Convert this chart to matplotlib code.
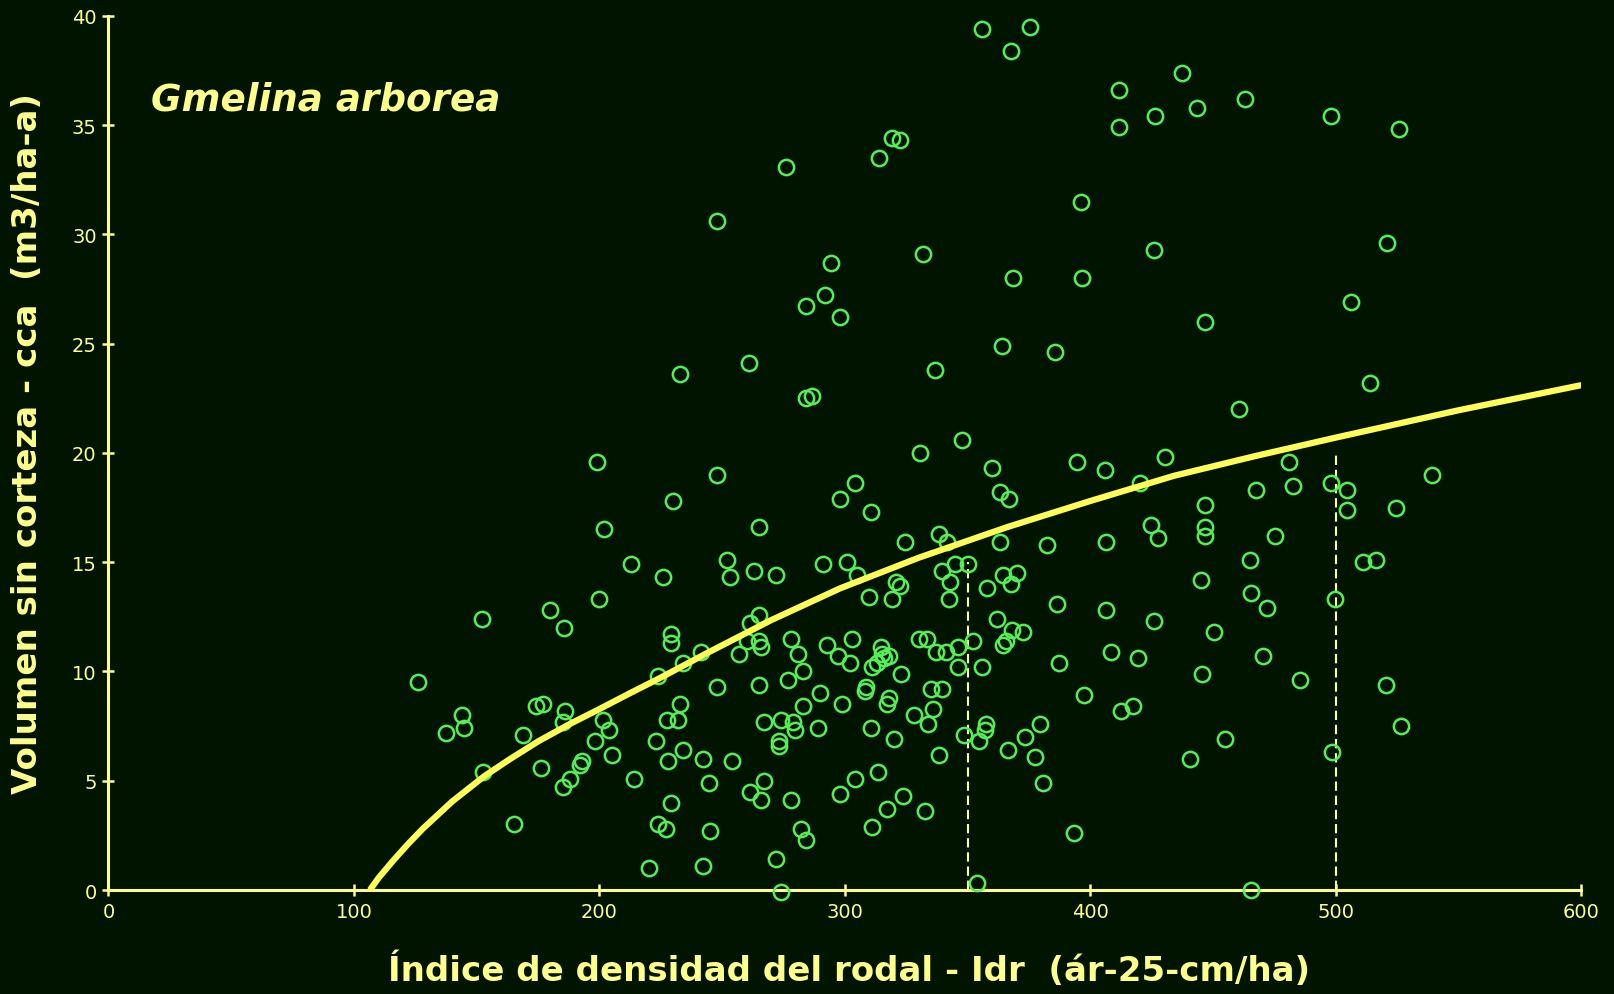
import numpy as np
import matplotlib
matplotlib.use('Agg')
import matplotlib.pyplot as plt

# datos
idr = [126, 137.5, 144, 145, 152, 152.5, 165, 169, 174, 177, 176, 180, 185.5, 186, 185,
       185, 188, 192, 193, 199, 198, 200, 202, 201.5, 204, 205, 213, 214, 220, 223,
       224, 224, 226, 227, 227.5, 228, 229, 229, 229, 230, 232, 233, 234, 233, 234,
       241.5, 242, 242, 244.5, 245, 248, 248, 248, 252, 253, 254, 257, 261, 260, 261.5,
       261.5, 263, 265, 265, 265, 266, 265, 267, 267, 266, 272, 272, 273, 273, 274,
       274, 276, 277, 278, 278, 279, 279.5, 281, 282, 283, 283, 284, 284, 284, 286.5,
       289, 290, 291, 292, 292.5, 294.5, 297, 298, 298, 298, 299, 301, 302, 303, 304,
       304, 305, 308, 308.5, 310, 310.5, 310.5, 311, 311, 313, 313.5, 314, 314.5, 315,
       316, 317, 318, 317, 318, 319, 320, 319, 321, 322.5, 322.5, 323, 323.5, 324.5,
       328, 330, 330.5, 332, 332.5, 333.5, 334, 335, 336, 336.5, 337, 338.5, 338.5,
       339.5, 339.5, 341, 341.5, 342.5, 343, 345, 346, 346, 347.5, 348.5, 350, 352,
       354, 354.5, 356, 356, 357, 357.5, 358, 360, 362, 363, 363, 364, 364.5, 364.5,
       365.5, 366.5, 367, 367.5, 368, 367.5, 368.5, 370, 372.5, 373.5, 375.5, 377.5,
       379.5, 380.5, 382.5, 385.5, 386.5, 387, 393.5, 394.5, 396, 396.5, 397.5, 406,
       406.5, 406.5, 408.5, 411.5, 411.5, 412.5, 417.5, 419.5, 420, 424.5, 426, 426,
       426.5, 427.5, 430.5, 437.5, 440.5, 443.5, 445, 445.5, 446.5, 446.5, 446.5, 446.5,
       450.5, 455, 460.5, 463, 465, 465.5, 465.5, 467.5, 470.5, 472, 475, 481, 482.5,
       485.5, 498, 498, 498.5, 499.5, 504.5, 504.5, 506, 511, 514, 516.5, 520.5, 521,
       524.5, 525.5, 526.5, 539]
vol = [9.5, 7.2, 8.0, 7.4, 12.4, 5.4, 3.0, 7.1, 8.4, 8.5, 5.6, 12.8, 12.0, 8.2, 7.7,
       4.7, 5.1, 5.7, 5.9, 19.6, 6.8, 13.3, 16.5, 7.8, 7.3, 6.2, 14.9, 5.1, 1.0, 6.8,
       9.8, 3.0, 14.3, 2.8, 7.8, 5.9, 4.0, 11.7, 11.3, 17.8, 7.8, 23.6, 10.4, 8.5, 6.4,
       10.9, 6.0, 1.1, 4.9, 2.7, 30.6, 19.0, 9.3, 15.1, 14.3, 5.9, 10.8, 24.1, 11.4, 12.2,
       4.5, 14.6, 16.6, 12.6, 11.4, 11.1, 9.4, 7.7, 5.0, 4.1, 14.4, 1.4, 6.8, 6.6, -0.1,
       7.8, 33.1, 9.6, 11.5, 4.1, 7.7, 7.3, 10.8, 2.8, 10.0, 8.4, 26.7, 2.3, 22.5, 22.6,
       7.4, 9.0, 14.9, 27.2, 11.2, 28.7, 10.7, 17.9, 26.2, 4.4, 8.5, 15.0, 10.4, 11.5, 18.6,
       5.1, 14.4, 9.1, 9.3, 13.4, 17.3, 7.4, 2.9, 10.2, 10.4, 5.4, 33.5, 11.1, 10.8,
       10.6, 8.5, 8.8, 3.7, 10.7, 34.4, 6.9, 13.3, 14.1, 34.3, 13.9, 9.9, 4.3, 15.9,
       8.0, 11.5, 20.0, 29.1, 3.6, 11.5, 7.6, 9.2, 8.3, 23.8, 10.9, 6.2, 16.3,
       14.6, 9.2, 10.9, 15.9, 13.3, 14.1, 14.9, 11.1, 10.2, 20.6, 7.1, 14.9, 11.4,
       0.3, 6.8, 10.2, 39.4, 7.3, 7.6, 13.8, 19.3, 12.4, 18.2, 15.9, 24.9, 11.2, 14.4,
       11.4, 6.4, 17.9, 38.4, 11.9, 14.0, 28.0, 14.5, 11.8, 7.0, 39.5, 6.1,
       7.6, 4.9, 15.8, 24.6, 13.1, 10.4, 2.6, 19.6, 31.5, 28.0, 8.9, 19.2,
       15.9, 12.8, 10.9, 36.6, 34.9, 8.2, 8.4, 10.6, 18.6, 16.7, 12.3, 29.3,
       35.4, 16.1, 19.8, 37.4, 6.0, 35.8, 14.2, 9.9, 16.6, 16.2, 17.6, 26.0,
       11.8, 6.9, 22.0, 36.2, 15.1, 13.6, 0.0, 18.3, 10.7, 12.9, 16.2, 19.6, 18.5,
       9.6, 35.4, 18.6, 6.3, 13.3, 18.3, 17.4, 26.9, 15.0, 23.2, 15.1, 9.4, 29.6,
       17.5, 34.8, 7.5, 19.0]

# curva ajustada
curva_x = [106.5, 110, 116, 122, 128, 140, 153, 163, 175, 188, 200, 212, 225, 244,
           270, 298, 330, 366, 400, 434, 467, 500, 550, 600]
curva_y = [0, 0.55, 1.35, 2.1, 2.8, 4.05, 5.2, 5.95, 6.8, 7.6, 8.28, 8.98, 9.72, 10.85,
           12.35, 13.8, 15.2, 16.6, 17.8, 18.95, 19.85, 20.7, 21.95, 23.1]

# lineas verticales discontinuas
ref_x = [350, 500]
ref_top = [15.0, 20.0]

fondo = '#001400'
amarillo = '#ffff8c'

fig = plt.figure(figsize=(16.14, 9.95), dpi=100, facecolor=fondo)
ax = fig.add_axes([0.0672, 0.1045, 0.9126, 0.8787])
ax.set_facecolor(fondo)

ax.plot(idr, vol, 'o', mfc='none', mec='#55ee55', ms=11, mew=1.8, clip_on=False, zorder=3)
ax.plot(curva_x, curva_y, color='#ffff55', lw=4.5, solid_capstyle='butt',
        solid_joinstyle='round', zorder=4)
for xv, yt in zip(ref_x, ref_top):
    ax.plot([xv, xv], [0, yt], color=amarillo, lw=1.5, linestyle=(0, (4.5, 2.3)), zorder=2)

ax.set_xlim(0, 600)
ax.set_ylim(0, 40)
ax.set_xticks(range(0, 601, 100))
ax.set_yticks(range(0, 41, 5))

for s in ['top', 'right']:
    ax.spines[s].set_visible(False)
for s in ['left', 'bottom']:
    ax.spines[s].set_color(amarillo)
    ax.spines[s].set_linewidth(2.2)
ax.tick_params(colors=amarillo, direction='inout', length=9, width=1.8, labelsize=14, pad=4)

ax.set_xlabel('Índice de densidad del rodal - Idr  (ár-25-cm/ha)', color=amarillo,
              fontsize=24.5, fontweight='bold')
ax.set_ylabel('Volumen sin corteza - cca  (m3/ha-a)', color=amarillo,
              fontsize=24.5, fontweight='bold')
ax.xaxis.set_label_coords(0.5025, -0.0705)
ax.yaxis.set_label_coords(-0.044, 0.512)

ax.text(0.0289, 0.9047, 'Gmelina arborea', transform=ax.transAxes, color=amarillo,
        fontsize=26.8, fontweight='bold', fontstyle='italic', ha='left', va='center')

fig.savefig('out.png', dpi=100, facecolor=fondo)
